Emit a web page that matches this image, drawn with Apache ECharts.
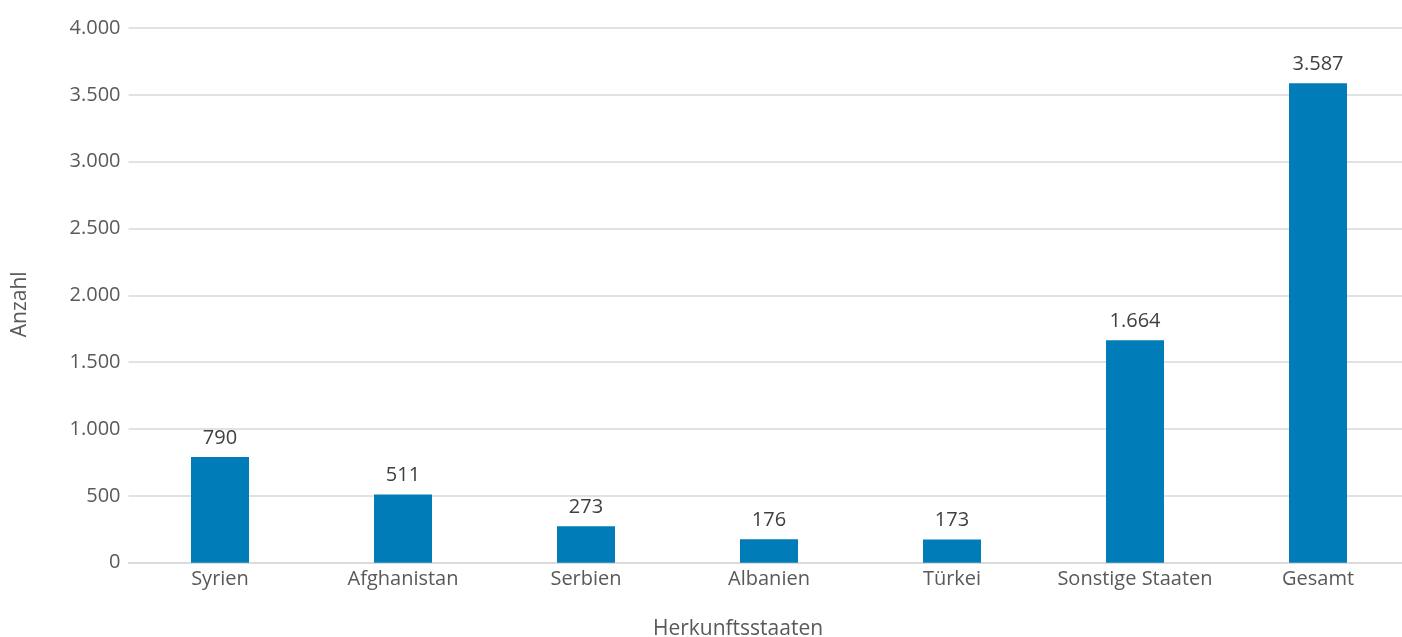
<!DOCTYPE html>
<html>
<head>
<meta charset="utf-8">
<script src="https://cdn.jsdelivr.net/npm/echarts@6/dist/echarts.min.js"></script>
<style>
  html, body { margin: 0; padding: 0; background: #ffffff; }
  #chart { width: 1402px; height: 637px; }
</style>
</head>
<body>
<div id="chart"></div>
<script>
// Herkunftsstaaten und Anzahl
const categories = ['Syrien', 'Afghanistan', 'Serbien', 'Albanien', 'Türkei', 'Sonstige Staaten', 'Gesamt'];
const values = [790, 511, 273, 176, 173, 1664, 3587];

const fontFamily = '"Open Sans", Lato, "Noto Sans", sans-serif';
const fmt = v => String(v).replace(/\B(?=(\d{3})+(?!\d))/g, '.');

const chart = echarts.init(document.getElementById('chart'), null, { renderer: 'canvas' });
chart.setOption({
  animation: false,
  backgroundColor: '#ffffff',
  textStyle: { fontFamily: fontFamily },
  grid: {
    left: 128.5, right: -7.5, top: 28, bottom: 74.3,
    containLabel: false, outerBoundsMode: 'none'
  },
  xAxis: {
    type: 'category',
    data: categories,
    name: 'Herkunftsstaaten',
    nameLocation: 'middle',
    nameGap: 56,
    nameTextStyle: { color: '#595959', fontSize: 21, fontFamily: fontFamily, padding: [0, 62, 0, 0] },
    axisLine: { show: true, lineStyle: { color: '#D9D9D9', width: 1.5 } },
    axisTick: { show: false },
    axisLabel: { color: '#595959', fontSize: 20, margin: 7, interval: 0, hideOverlap: false, fontFamily: fontFamily }
  },
  yAxis: {
    type: 'value',
    min: 0,
    max: 4000,
    interval: 500,
    name: 'Anzahl',
    nameLocation: 'middle',
    nameGap: 98,
    nameRotate: 90,
    nameTextStyle: { color: '#595959', fontSize: 21, fontFamily: fontFamily, padding: [0, 18, 0, 0] },
    axisLine: { show: false },
    axisTick: { show: false },
    axisLabel: { color: '#595959', fontSize: 20, margin: 8, formatter: fmt, fontFamily: fontFamily },
    splitLine: { lineStyle: { color: '#D9D9D9', width: 1.5 } }
  },
  series: [{
    type: 'bar',
    data: values,
    barWidth: 58,
    itemStyle: { color: '#007DB8' },
    label: {
      show: true,
      position: 'top',
      distance: 9,
      color: '#404040',
      fontSize: 20,
      fontFamily: fontFamily,
      formatter: p => fmt(p.value)
    }
  }]
});
</script>
</body>
</html>
